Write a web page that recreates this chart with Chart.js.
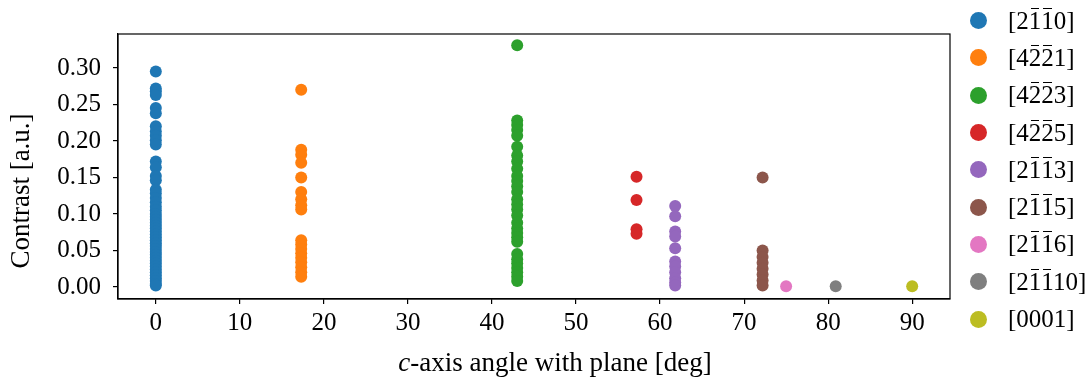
<!DOCTYPE html>
<html>
<head>
<meta charset="utf-8">
<script src="https://cdn.jsdelivr.net/npm/chart.js@4/dist/chart.umd.min.js"></script>
<style>
  html, body { margin: 0; padding: 0; background: #fff; }
  #wrap { position: relative; width: 1090px; height: 387px; font-family: 'Liberation Serif', serif; }
  #legend { position: absolute; left: 966px; top: 2px; }
  .lg-row { display: flex; align-items: center; height: 37.3px; }
  .lg-dot { width: 17px; height: 17px; border-radius: 50%; margin-left: 4px; margin-right: 21px; }
  .lg-txt { font-size: 25px; color: #000; white-space: nowrap; }
  .ov { position: relative; }
  .ov::before { content: ''; position: absolute; left: 2px; right: 2px; top: 1px; border-top: 1.2px solid #000; }
</style>
</head>
<body>
<div id="wrap">
  <canvas id="chart" width="1090" height="387"></canvas>
  <div id="legend"></div>
</div>
<script>
// ---- data ----
const seriesLabels = ['[2~1~10]', '[4~2~21]', '[4~2~23]', '[4~2~25]', '[2~1~13]', '[2~1~15]', '[2~1~16]', '[2~1~110]', '[0001]'];
const seriesColors = ['#1f77b4', '#ff7f0e', '#2ca02c', '#d62728', '#9467bd', '#8c564b', '#e377c2', '#7f7f7f', '#bcbd22'];
const seriesAngles = [0, 17.3, 43.0, 57.2, 61.8, 72.2, 75.0, 80.9, 90.0];

const contrast2110 = [0.295, 0.272, 0.268, 0.263, 0.245, 0.238, 0.220, 0.213, 0.207, 0.201, 0.195,
  0.172, 0.164, 0.152, 0.146, 0.133, 0.128, 0.122, 0.116, 0.110, 0.105, 0.100, 0.096, 0.092,
  0.088, 0.084, 0.080, 0.076, 0.072, 0.068, 0.064, 0.060, 0.056, 0.052, 0.048, 0.044, 0.040,
  0.036, 0.032, 0.028, 0.024, 0.020, 0.016, 0.012, 0.008, 0.004, 0.002];
const contrast4221 = [0.270, 0.188, 0.181, 0.170, 0.150, 0.130, 0.120, 0.112, 0.106,
  0.064, 0.058, 0.052, 0.046, 0.040, 0.034, 0.027, 0.020, 0.014];
const contrast4223 = [0.331, 0.228, 0.222, 0.215, 0.207, 0.192, 0.180, 0.172, 0.162, 0.152,
  0.145, 0.138, 0.130, 0.120, 0.113, 0.106, 0.098, 0.088, 0.080, 0.074, 0.068, 0.062,
  0.045, 0.038, 0.032, 0.026, 0.020, 0.014, 0.008];
const contrast4225 = [0.151, 0.119, 0.079, 0.073];
const contrast2113 = [0.111, 0.097, 0.076, 0.069, 0.053, 0.035, 0.028, 0.020, 0.012, 0.006, 0.002];
const contrast2115 = [0.150, 0.050, 0.041, 0.033, 0.025, 0.017, 0.009, 0.002];
const contrast2116 = [0.001];
const contrast21110 = [0.001];
const contrast0001 = [0.001];
const seriesValues = [contrast2110, contrast4221, contrast4223, contrast4225, contrast2113,
  contrast2115, contrast2116, contrast21110, contrast0001];

const xTickValues = [0, 10, 20, 30, 40, 50, 60, 70, 80, 90];
const yTickValues = [0, 0.05, 0.10, 0.15, 0.20, 0.25, 0.30];

const FONT = "'Liberation Serif', serif";

// ---- legend (html, so the overbars stay real text) ----
function labelHtml(s) {
  let out = '', bar = false;
  for (const ch of s) {
    if (ch === '~') { bar = true; continue; }
    out += bar ? `<span class="ov">${ch}</span>` : ch;
    bar = false;
  }
  return out;
}
document.getElementById('legend').innerHTML = seriesLabels.map((l, i) =>
  `<div class="lg-row"><div class="lg-dot" style="background:${seriesColors[i]}"></div><div class="lg-txt">${labelHtml(l)}</div></div>`
).join('');

// box round the plot + axis titles
const framePlugin = {
  id: 'frame',
  afterDraw(chart) {
    const { ctx, chartArea: a } = chart;
    ctx.save();
    ctx.strokeStyle = '#000';
    ctx.lineWidth = 1.2;
    ctx.strokeRect(a.left, a.top, a.right - a.left, a.bottom - a.top);

    // x title, italic c
    ctx.fillStyle = '#000';
    ctx.textBaseline = 'middle';
    const p1 = 'c', p2 = '-axis angle with plane [deg]';
    ctx.font = `italic 27px ${FONT}`;
    const w1 = ctx.measureText(p1).width;
    ctx.font = `27px ${FONT}`;
    const w2 = ctx.measureText(p2).width;
    const x0 = 555 - (w1 + w2) / 2;
    ctx.font = `italic 27px ${FONT}`;
    ctx.textAlign = 'left';
    ctx.fillText(p1, x0, 364);
    ctx.font = `27px ${FONT}`;
    ctx.fillText(p2, x0 + w1, 364);

    // y title
    ctx.translate(22, 191);
    ctx.rotate(-Math.PI / 2);
    ctx.textAlign = 'center';
    ctx.fillText('Contrast [a.u.]', 0, 0);
    ctx.restore();
  }
};

const axisGrid = { display: true, drawOnChartArea: false, drawTicks: true, tickLength: 5, color: '#000', lineWidth: 1.2 };

new Chart(document.getElementById('chart'), {
  type: 'scatter',
  data: {
    datasets: seriesValues.map((vals, i) => ({
      label: seriesLabels[i],
      data: vals.map(v => ({ x: seriesAngles[i], y: v })),
      backgroundColor: seriesColors[i],
      borderColor: seriesColors[i],
      borderWidth: 0,
      pointRadius: 6,
      pointHoverRadius: 6,
    }))
  },
  options: {
    responsive: false,
    animation: false,
    devicePixelRatio: 1,
    layout: { padding: { left: 0, top: 34, right: 140, bottom: 0 } },
    plugins: { legend: { display: false }, tooltip: { enabled: false } },
    scales: {
      x: {
        type: 'linear', min: -4.5, max: 94.5,
        afterBuildTicks: ax => { ax.ticks = xTickValues.map(v => ({ value: v })); },
        afterFit: ax => { ax.height = 88; },
        grid: axisGrid,
        border: { display: true, color: '#000', width: 1.2 },
        ticks: { color: '#000', font: { family: FONT, size: 25 }, padding: 4, maxRotation: 0 }
      },
      y: {
        type: 'linear', min: -0.0165, max: 0.3465,
        afterBuildTicks: ax => { ax.ticks = yTickValues.map(v => ({ value: v })); },
        afterFit: ax => { ax.width = 118; },
        grid: axisGrid,
        border: { display: true, color: '#000', width: 1.2 },
        ticks: { color: '#000', font: { family: FONT, size: 25 }, padding: 12, callback: v => v.toFixed(2) }
      }
    }
  },
  plugins: [framePlugin]
});
</script>
</body>
</html>
